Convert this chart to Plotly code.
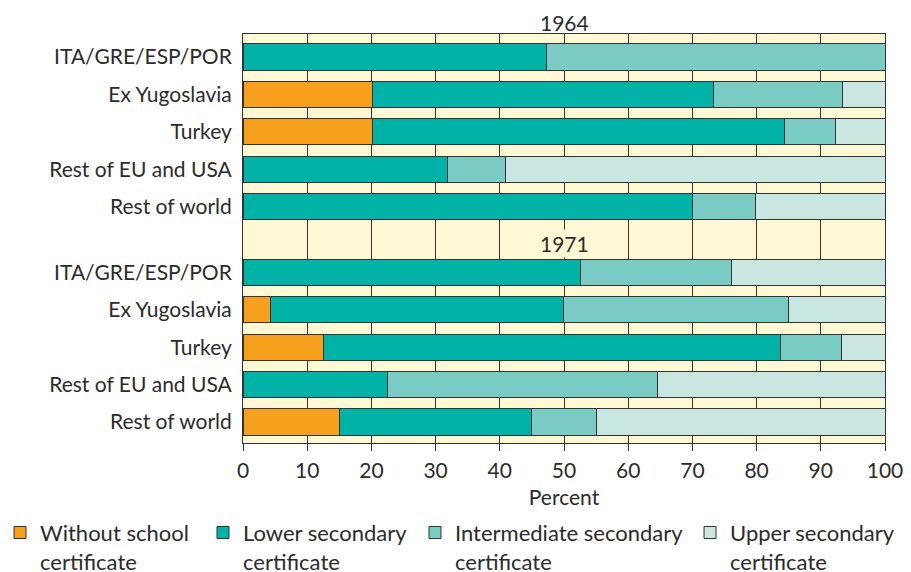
import plotly.graph_objects as go

regions = ["ITA/GRE/ESP/POR", "Ex Yugoslavia", "Turkey", "Rest of EU and USA", "Rest of world"]
years = ["1964", "1971"]

series_names = ["Without school<br>certificate", "Lower secondary<br>certificate",
                "Intermediate secondary<br>certificate", "Upper secondary<br>certificate"]
colors = ["#F7A01E", "#00B3A6", "#7ACBC3", "#C9E6E1"]

without_1964 = [0.0, 20.1, 20.1, 0.0, 0.0]
lower_1964 = [47.3, 53.2, 64.2, 31.9, 70.0]
inter_1964 = [52.7, 20.1, 8.0, 9.0, 9.9]
upper_1964 = [0.0, 6.6, 7.7, 59.1, 20.1]

without_1971 = [0.0, 4.3, 12.5, 0.0, 15.0]
lower_1971 = [52.5, 45.6, 71.2, 22.5, 30.0]
inter_1971 = [23.6, 35.0, 9.5, 42.0, 10.0]
upper_1971 = [23.9, 15.1, 6.8, 35.5, 45.0]

x_ticks = [0, 10, 20, 30, 40, 50, 60, 70, 80, 90, 100]

# vertical row positions (1971 group offset below a header row)
pos_1964 = [0, 1, 2, 3, 4]
pos_1971 = [5.75, 6.75, 7.75, 8.75, 9.75]
ypos = pos_1964 + pos_1971
ylabels = regions + regions

all_series = [
    without_1964 + without_1971,
    lower_1964 + lower_1971,
    inter_1964 + inter_1971,
    upper_1964 + upper_1971,
]

FONT = "Lato"
TXT = "#2b2b2b"
CREAM = "#FFF8D4"
EDGE = "#333333"

legend_ids = ["legend", "legend2", "legend3", "legend4"]
legend_x = [-0.3785, -0.0623, 0.2679, 0.6963]

fig = go.Figure()
for name, vals, col, lid in zip(series_names, all_series, colors, legend_ids):
    fig.add_trace(go.Bar(
        y=ypos, x=vals, orientation="h", name=name,
        marker=dict(color=col, line=dict(color=EDGE, width=1)),
        width=0.7, legend=lid,
    ))

legend_style = dict(orientation="h", xanchor="left", y=-0.168, yanchor="top",
                    valign="top", font=dict(size=22, color=TXT),
                    itemclick=False, bgcolor="rgba(0,0,0,0)")

fig.update_layout(
    barmode="stack",
    width=903, height=564,
    margin=dict(l=235, r=26, t=26, b=129, autoexpand=False),
    paper_bgcolor="white",
    plot_bgcolor=CREAM,
    font=dict(family=FONT, size=21, color=TXT),
    showlegend=True,
    annotations=[
        dict(text=years[0], x=50, y=1.029, xref="x", yref="paper", showarrow=False,
             yanchor="middle", font=dict(size=21, color=TXT)),
        dict(text=years[1], x=50, y=4.97, xref="x", yref="y", showarrow=False,
             bgcolor=CREAM, font=dict(size=21, color=TXT)),
    ],
)
for lid, lx in zip(legend_ids, legend_x):
    fig.update_layout({lid: dict(legend_style, x=lx)})

fig.update_xaxes(
    range=[0, 100], tickvals=x_ticks, ticks="outside", ticklen=7, tickcolor=EDGE,
    showgrid=True, gridcolor=EDGE, gridwidth=1,
    showline=True, linecolor=EDGE, mirror=True, zeroline=False,
    title=dict(text="Percent", font=dict(size=21, color=TXT), standoff=9),
    tickfont=dict(size=21, color=TXT), ticklabelstandoff=2, automargin=False,
)
fig.update_yaxes(
    range=[10.31, -0.614], tickvals=ypos, ticktext=ylabels, ticks="",
    showgrid=False, showline=True, linecolor=EDGE, mirror=True, zeroline=False,
    tickfont=dict(size=21, color=TXT), ticklabelstandoff=6, automargin=False,
)

fig.write_html("out.html")
